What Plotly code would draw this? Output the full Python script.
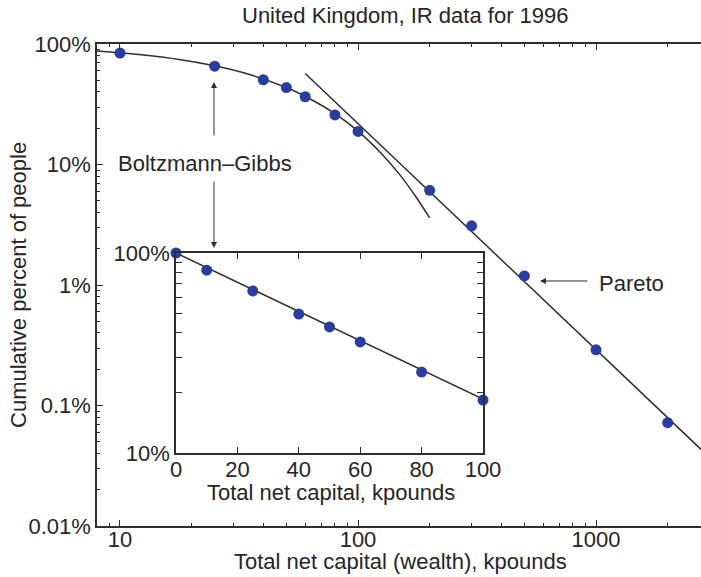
import plotly.graph_objects as go

# ---- data ----
wealth_k = [10, 25, 40, 50, 60, 80, 100, 200, 300, 500, 1000, 2000]
cum_pct = [84, 65.5, 50.5, 43.5, 36.5, 25.8, 18.8, 6.1, 3.1, 1.19, 0.29, 0.072]

# Boltzmann-Gibbs fit curve
bg_x = [8, 12, 18, 25, 35, 50, 65, 80, 100, 125, 150, 175, 200]
bg_pct = [87.5, 81.8, 74.1, 65.9, 55.8, 43.5, 33.8, 26.4, 18.9, 12.4, 8.2, 5.4, 3.6]

# Pareto fit line (end points)
pareto_x = [60, 3000]
pareto_pct = [57, 0.037]

# inset (linear x, log y)
inset_x = [0, 10, 25, 40, 50, 60, 80, 100]
inset_pct = [100, 82, 64.6, 49.5, 42.7, 35.9, 25.4, 18.4]
inset_fit_x = [0, 100]
inset_fit_pct = [100, 18.6]

main_y_ticks = [0.01, 0.1, 1, 10, 100]
main_y_text = ["0.01%", "0.1%", "1%", "10%", "100%"]
main_x_ticks = [10, 100, 1000]
main_x_text = ["10", "100", "1000"]
inset_x_ticks = [0, 20, 40, 60, 80, 100]
inset_y_ticks = [10, 100]
inset_y_text = ["10%", "100%"]

FONT = "Liberation Sans, Arial, sans-serif"
FS = 22
TXT = "#262626"
LINE = "#2e2e2e"
DOT = "#2a3c9e"

fig = go.Figure()

fig.add_trace(go.Scatter(x=bg_x, y=bg_pct, mode="lines", line=dict(color=LINE, width=1.5, shape="spline"),
                         xaxis="x", yaxis="y", hoverinfo="skip"))
fig.add_trace(go.Scatter(x=pareto_x, y=pareto_pct, mode="lines", line=dict(color=LINE, width=1.5),
                         xaxis="x", yaxis="y", hoverinfo="skip"))
fig.add_trace(go.Scatter(x=wealth_k, y=cum_pct, mode="markers",
                         marker=dict(color=DOT, size=11), xaxis="x", yaxis="y", cliponaxis=False))

fig.add_trace(go.Scatter(x=inset_fit_x, y=inset_fit_pct, mode="lines", line=dict(color=LINE, width=1.5),
                         xaxis="x2", yaxis="y2", hoverinfo="skip"))
fig.add_trace(go.Scatter(x=inset_x, y=inset_pct, mode="markers",
                         marker=dict(color=DOT, size=11), xaxis="x2", yaxis="y2", cliponaxis=False))

def decades_minor(lo_exp, hi_exp, lo=None, hi=None):
    vals = []
    for e in range(lo_exp, hi_exp + 1):
        for m in range(2, 10):
            v = m * 10 ** e
            if (lo is None or v >= lo) and (hi is None or v <= hi):
                vals.append(v)
    return vals

tickfont = dict(family=FONT, size=FS, color=TXT)

fig.update_layout(
    width=701, height=577,
    margin=dict(l=97, r=0, t=44, b=51, autoexpand=False),
    paper_bgcolor="white", plot_bgcolor="white",
    showlegend=False,
    font=dict(family=FONT, size=FS, color=TXT),
    xaxis=dict(type="log", range=[0.9034, 3.441], showgrid=False, zeroline=False, automargin=False,
               showline=True, linecolor=LINE, linewidth=1.5, mirror="allticks",
               ticks="inside", ticklen=6, tickcolor=LINE, tickwidth=1, ticklabelstandoff=-7,
               tickvals=main_x_ticks, ticktext=main_x_text, tickfont=tickfont,
               minor=dict(tickvals=decades_minor(0, 3, 8, 3000), ticks="inside", ticklen=3,
                          tickcolor=LINE, showgrid=False),
               domain=[0, 1]),
    yaxis=dict(type="log", range=[-2, 2], showgrid=False, zeroline=False, automargin=False,
               showline=True, linecolor=LINE, linewidth=1.5,
               ticks="inside", ticklen=6, tickcolor=LINE, tickwidth=1,
               tickvals=main_y_ticks, ticktext=main_y_text, tickfont=tickfont,
               minor=dict(tickvals=decades_minor(-2, 1), ticks="inside", ticklen=3,
                          tickcolor=LINE, showgrid=False),
               domain=[0, 1]),
    xaxis2=dict(range=[0, 100], showgrid=False, zeroline=False, automargin=False,
                showline=True, linecolor=LINE, linewidth=1.5, mirror="allticks",
                ticks="inside", ticklen=6, tickcolor=LINE, tickwidth=1, ticklabelstandoff=-4,
                tickvals=inset_x_ticks, tickfont=tickfont,
                domain=[0.1308, 0.6391], anchor="y2"),
    yaxis2=dict(type="log", range=[1, 2], showgrid=False, zeroline=False, automargin=False,
                showline=True, linecolor=LINE, linewidth=1.5, mirror="allticks",
                ticks="inside", ticklen=6, tickcolor=LINE, tickwidth=1,
                tickvals=inset_y_ticks, ticktext=inset_y_text, tickfont=tickfont,
                minor=dict(tickvals=decades_minor(1, 1), ticks="inside", ticklen=6,
                           tickcolor=LINE, showgrid=False),
                domain=[0.1515, 0.5664], anchor="x2"),
)

# white background behind the inset
fig.add_shape(type="rect", xref="x2 domain", yref="y2 domain", x0=0, x1=1, y0=0, y1=1,
              fillcolor="white", line=dict(width=0), layer="below")

def ann(text, x, y, **kw):
    d = dict(text=text, x=x, y=y, xref="paper", yref="paper", showarrow=False,
             font=dict(family=FONT, size=FS, color=TXT))
    d.update(kw)
    fig.add_annotation(**d)

ann("United Kingdom, IR data for 1996", 0.51, 1.060, xanchor="center", yanchor="middle")
ann("Total net capital (wealth), kpounds", 0.5017, -0.1040, xanchor="center", yanchor="bottom")
ann("Cumulative percent of people", -0.1308, 0.5, xanchor="center", yanchor="middle", textangle=-90)
ann("Total net capital, kpounds", 0.3874, 0.0685, xanchor="center", yanchor="middle")
ann("Boltzmann–Gibbs", 0.1788, 0.753, xanchor="center", yanchor="middle")
ann("Pareto", 0.8278, 0.504, xanchor="left", yanchor="middle")

# arrows
for (x, y, ax, ay) in [(0.1937, 0.9212, 0, 55), (0.1937, 0.5768, 0, -68), (0.7334, 0.5083, 49, 0)]:
    fig.add_annotation(x=x, y=y, xref="paper", yref="paper", text="", showarrow=True,
                       ax=ax, ay=ay, arrowhead=2, arrowsize=1.2, arrowwidth=1, arrowcolor=LINE)

fig.write_html("out.html")
